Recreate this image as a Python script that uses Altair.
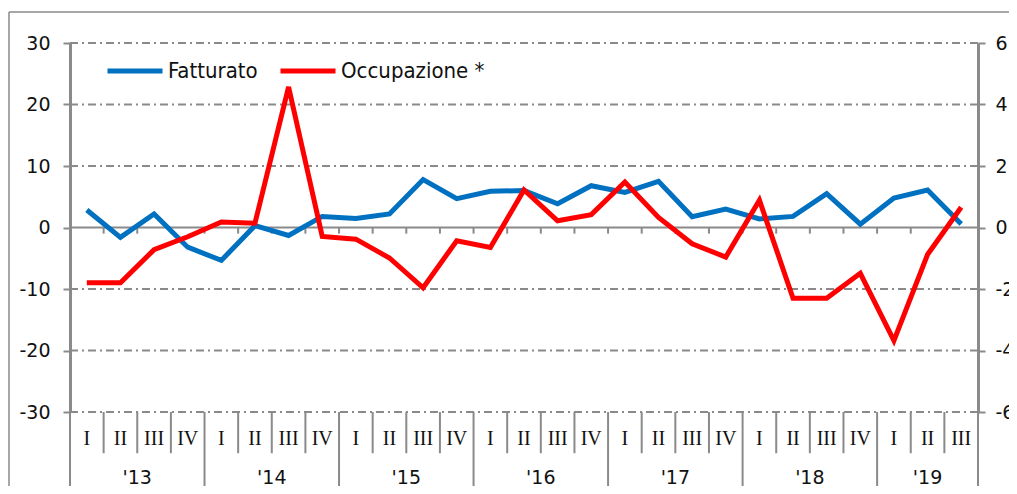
import altair as alt
import pandas as pd

# ---- data ----
quarter_names = ["I", "II", "III", "IV"]
year_labels = ["'13", "'14", "'15", "'16", "'17", "'18", "'19"]
quarters = (quarter_names * 7)[:27]

fatturato = [2.85, -1.6, 2.2, -3.2, -5.35, 0.3, -1.3, 1.8,
             1.45, 2.2, 7.8, 4.7, 5.9, 6.0, 3.85, 6.8,
             5.7, 7.5, 1.75, 3.0, 1.4, 1.8, 5.5, 0.55,
             4.8, 6.1, 0.55]
occupazione = [-1.8, -1.8, -0.72, -0.3, 0.18, 0.14, 4.57, -0.29,
               -0.38, -0.99, -1.96, -0.43, -0.65, 1.22, 0.22, 0.42,
               1.48, 0.33, -0.53, -0.96, 0.89, -2.3, -2.3, -1.49,
               -3.68, -0.88, 0.66]
left_ticks = [-30, -20, -10, 0, 10, 20, 30]
right_ticks = [-6, -4, -2, 0, 2, 4, 6]
series_names = ["Fatturato", "Occupazione *"]
series_colors = ["#0070C0", "#FF0000"]

N = len(fatturato)
xpos = [i + 0.5 for i in range(N)]

df_f = pd.DataFrame({"x": xpos, "v": fatturato, "serie": series_names[0]})
df_o = pd.DataFrame({"x": xpos, "v": occupazione, "serie": series_names[1]})

GRAY = "#8a8a8a"
XS = alt.Scale(domain=[0, N], nice=False)
YL = alt.Scale(domain=[-30, 30], nice=False)
YR = alt.Scale(domain=[-6, 6], nice=False)
color_scale = alt.Scale(domain=series_names, range=series_colors)

left_axis = alt.Axis(orient="left", values=left_ticks, tickSize=7, tickColor=GRAY, tickWidth=2,
                     domainColor=GRAY, domainWidth=3, labelFont="DejaVu Sans", labelFontSize=19,
                     labelColor="#111", labelPadding=13, labelFlush=False, labelOverlap=False,
                     labelExpr="toString(datum.value)", grid=False, title=None)
right_axis = alt.Axis(orient="right", values=right_ticks, tickSize=7, tickColor=GRAY, tickWidth=2,
                      domainColor=GRAY, domainWidth=3, labelFont="DejaVu Sans", labelFontSize=19,
                      labelColor="#111", labelPadding=10, labelFlush=False, labelOverlap=False,
                      labelExpr="toString(datum.value)", grid=False, title=None)


def YLQ(field):
    return alt.Y(field, type="quantitative", scale=YL, axis=left_axis)


# grid lines (dash-dot)
grid_df = pd.DataFrame({"y": [t for t in left_ticks if t != 0], "x0": 0, "x1": N})
grid = alt.Chart(grid_df).mark_rule(color=GRAY, strokeWidth=2, strokeDash=[8, 4, 2, 4]).encode(
    x=alt.X("x0:Q", scale=XS, axis=None), x2="x1:Q", y=YLQ("y"))

zero_df = pd.DataFrame({"y": [0], "x0": [0], "x1": [N]})
zero = alt.Chart(zero_df).mark_rule(color=GRAY, strokeWidth=2).encode(
    x=alt.X("x0:Q", scale=XS, axis=None), x2="x1:Q", y=YLQ("y"))

# small ticks on the zero line
zt_df = pd.DataFrame({"x": list(range(1, N)), "y0": 0, "y1": -1.0})
zticks = alt.Chart(zt_df).mark_rule(color=GRAY, strokeWidth=2).encode(
    x=alt.X("x:Q", scale=XS, axis=None), y=YLQ("y0"), y2="y1:Q")

# category separators below the plot
year_bounds = [0, 4, 8, 12, 16, 20, 24, N]
q_bounds = [b for b in range(1, N) if b not in year_bounds]
qs_df = pd.DataFrame({"x": q_bounds, "y0": -30, "y1": -36.7})
qseps = alt.Chart(qs_df).mark_rule(color=GRAY, strokeWidth=2).encode(
    x=alt.X("x:Q", scale=XS, axis=None), y=YLQ("y0"), y2="y1:Q")
ys_df = pd.DataFrame({"x": year_bounds, "y0": -30, "y1": -46})
yseps = alt.Chart(ys_df).mark_rule(color=GRAY, strokeWidth=2).encode(
    x=alt.X("x:Q", scale=XS, axis=None), y=YLQ("y0"), y2="y1:Q")

ql_df = pd.DataFrame({"x": xpos, "t": quarters, "y": -34.4})
qlabels = alt.Chart(ql_df).mark_text(font="Liberation Serif", fontSize=20, color="#111",
                                     baseline="middle", align="center").encode(
    x=alt.X("x:Q", scale=XS, axis=None), y=YLQ("y"), text="t:N")

year_centers = [4 * k + 2 for k in range(6)] + [(24 + N) / 2]
yl_df = pd.DataFrame({"x": year_centers, "t": year_labels, "y": -40.7})
ylabels = alt.Chart(yl_df).mark_text(font="DejaVu Sans", fontSize=19, color="#111",
                                     baseline="middle", align="center").encode(
    x=alt.X("x:Q", scale=XS, axis=None), y=YLQ("y"), text="t:N")

legend = alt.Legend(orient="none", legendX=35, legendY=-2, direction="horizontal", title=None,
                    symbolType="stroke", symbolSize=3025, symbolStrokeWidth=5,
                    labelFont="DejaVu Sans Condensed", labelFontSize=22, labelColor="#111",
                    labelOffset=3, columnPadding=12)

line_f = alt.Chart(df_f).mark_line(strokeWidth=5, strokeJoin="miter").encode(
    x=alt.X("x:Q", scale=XS, axis=None), y=YLQ("v"),
    color=alt.Color("serie:N", scale=color_scale, legend=legend))

line_o = alt.Chart(df_o).mark_line(strokeWidth=5, strokeJoin="miter").encode(
    x=alt.X("x:Q", scale=XS, axis=None),
    y=alt.Y("v:Q", scale=YR, axis=right_axis),
    color=alt.Color("serie:N", scale=color_scale, legend=legend))

# outer frame
frame_top = alt.Chart(zero_df).mark_rule(color=GRAY, strokeWidth=1.5).encode(
    x=alt.value(-61), x2=alt.value(960), y=alt.value(-31))
frame_left = alt.Chart(zero_df).mark_rule(color=GRAY, strokeWidth=1.5).encode(
    x=alt.value(-61), y=alt.value(-31), y2=alt.value(460))

left_group = alt.layer(grid, zero, zticks, qseps, yseps, qlabels, ylabels, line_f)

chart = alt.layer(frame_top, frame_left, left_group, line_o).resolve_scale(y="independent").properties(
    width=908, height=369,
    padding={"left": 62, "top": 35, "right": 31, "bottom": 74},
    autosize=alt.AutoSizeParams(type="none"),
).configure_view(stroke=None)

chart.save("out.html", embed_options={"renderer": "svg", "actions": False})
